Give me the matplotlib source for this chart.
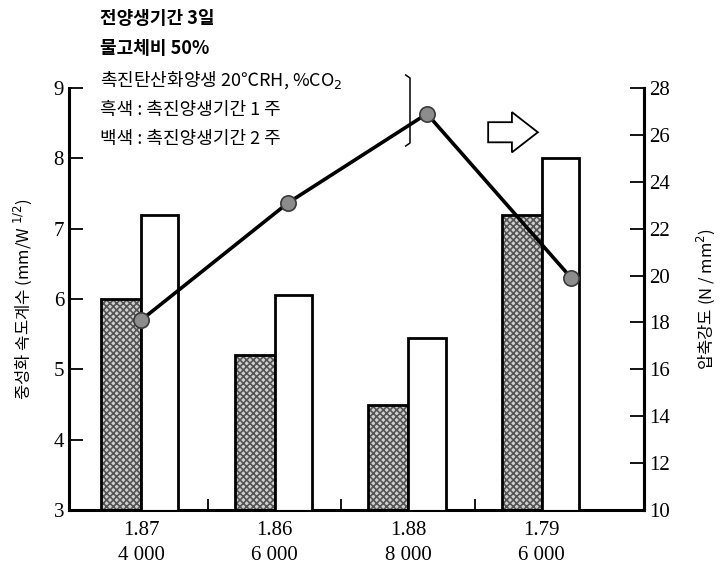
import numpy as np
from matplotlib import pyplot as plt
from matplotlib.patches import FancyArrow
from matplotlib.lines import Line2D

plt.rcParams['font.family'] = ['Noto Sans CJK KR', 'DejaVu Sans']
plt.rcParams['hatch.linewidth'] = 1.2

ratio = ['1.87', '1.86', '1.88', '1.79']
fineness = ['4 000', '6 000', '8 000', '6 000']
carb_1wk = [6.0, 5.2, 4.5, 7.2]      # 흑색 : 촉진양생기간 1 주
carb_2wk = [7.2, 6.05, 5.45, 8.0]    # 백색 : 촉진양생기간 2 주
strength = [18.1, 23.1, 26.9, 19.9]  # 압축강도
strength_x = [0.0, 1.1, 2.14, 3.22]

serif = 'Liberation Serif'

fig = plt.figure(figsize=(7.2, 5.75), dpi=100)
ax = fig.add_axes([0.0958, 0.113, 0.7986, 0.734])
x = np.arange(len(ratio))

# shaded bars: grey cross hatch, then a black outline on top
ax.bar(x, carb_1wk, width=-0.30, align='edge', color='#d0d0d0',
       edgecolor='#555555', hatch='xxxxx', linewidth=0, zorder=2)
ax.bar(x, carb_1wk, width=-0.30, align='edge', fill=False,
       edgecolor='black', linewidth=2.0, zorder=3)
ax.bar(x, carb_2wk, width=0.28, align='edge', color='white',
       edgecolor='black', linewidth=2.0, zorder=3)

ax.set_xlim(-0.54, 3.765)
ax.set_ylim(3, 9)
ax.set_yticks(range(3, 10))
ax.set_xticks(x)
ax.set_xticklabels([r + '\n' + f for r, f in zip(ratio, fineness)],
                   family=serif, fontsize=15, linespacing=1.45)
ax.set_xticks(x[:-1] + 0.5, minor=True)
ax.tick_params(axis='x', which='major', length=0, pad=8)
ax.tick_params(axis='x', which='minor', direction='in', length=8, width=1.3)
ax.tick_params(axis='y', direction='in', length=10, width=1.3, labelsize=15)
for t in ax.get_yticklabels():
    t.set_family(serif)
ax.spines['top'].set_visible(False)
for s in ['left', 'right', 'bottom']:
    ax.spines[s].set_linewidth(2.2)
ax.set_ylabel('중성화 속도계수 (mm/W $^{1/2}$)', fontsize=12, labelpad=14)

ax2 = ax.twinx()
ax2.plot(strength_x, strength, '-', color='black', lw=2.6,
         marker='o', markersize=11, markerfacecolor='#8c8c8c',
         markeredgecolor='#3a3a3a', markeredgewidth=1.2, zorder=5)
ax2.set_ylim(10, 28)
ax2.set_yticks(range(10, 29, 2))
ax2.tick_params(axis='y', direction='in', length=10, width=1.3, labelsize=15)
for t in ax2.get_yticklabels():
    t.set_family(serif)
ax2.spines['top'].set_visible(False)
ax2.spines['right'].set_linewidth(2.2)
ax2.set_ylabel('압축강도 (N / mm$^2$)', fontsize=12, labelpad=18)

# hollow arrow pointing to the right-hand axis
arrow = FancyArrow(0.678, 0.770, 0.069, 0, width=0.035, head_width=0.070,
                   head_length=0.036, length_includes_head=True,
                   transform=fig.transFigure, facecolor='white',
                   edgecolor='black', linewidth=1.3)
fig.patches.append(arrow)

notes = ['전양생기간 3일', '물고체비 50%', '촉진탄산화양생 20℃RH, %CO$_2$',
         '흑색 : 촉진양생기간 1 주', '백색 : 촉진양생기간 2 주']
note_y = [18, 48, 80, 110, 139]
for i, (txt, yy) in enumerate(zip(notes, note_y)):
    fig.text(100 / 720, 1 - yy / 575, txt, fontsize=13, va='center', ha='left',
             weight='bold' if i < 2 else 'normal')

# bracket closing the curing notes
bx = 410 / 720
fig.add_artist(Line2D([bx - 0.006, bx, bx, bx - 0.006],
                      [1 - 75 / 575, 1 - 78 / 575, 1 - 143 / 575, 1 - 146 / 575],
                      transform=fig.transFigure, color='black', lw=1.1))

fig.savefig('out.png', dpi=100)
